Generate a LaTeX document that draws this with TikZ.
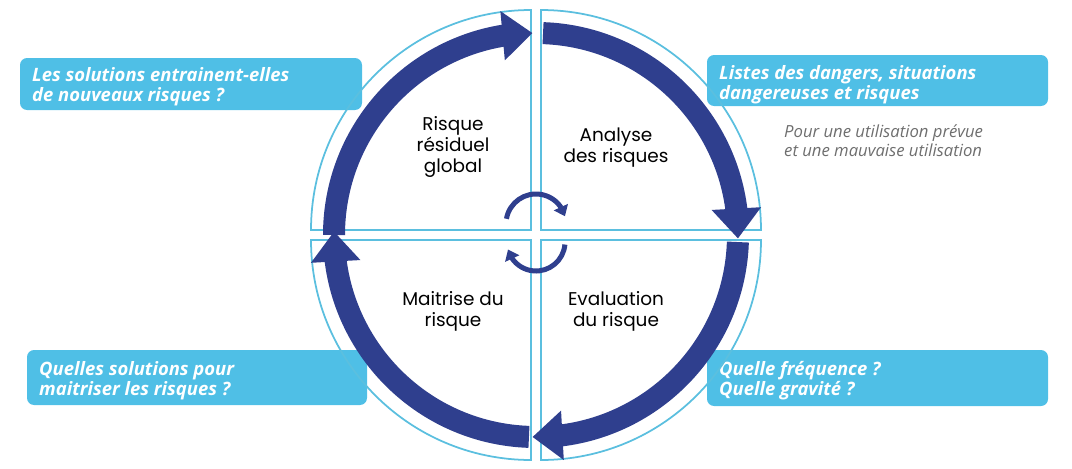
\documentclass[tikz,border=0pt]{standalone}
\usepackage{fontspec}
\setmainfont{Poppins}
\newfontfamily\boxfont{Open Sans}
\usetikzlibrary{arrows.meta,bending}
\definecolor{cyanbox}{HTML}{4FBFE6}
\definecolor{ringline}{HTML}{5BBFDF}
\definecolor{darkarrow}{HTML}{2F3F8E}
\definecolor{greytext}{HTML}{6E6E6E}
\tikzset{
  infobox/.style={fill=cyanbox, rounded corners=4pt, draw=none},
  infotext/.style={anchor=north west, align=left, text=white, font=\boxfont\bfseries\itshape\fontsize{10.5}{11.5}\selectfont},
  steplabel/.style={align=center, font=\fontsize{10.5}{12}\selectfont},
  quarter/.style={draw=ringline, line width=1pt},
  bigarrow/.style={darkarrow, line width=0.44cm, -{Triangle[length=0.6cm,width=0.95cm,flex]}},
  smallarrow/.style={darkarrow, line width=0.1cm, -{Triangle[length=0.2cm,width=0.3cm,flex]}}
}
\begin{document}
\begin{tikzpicture}[x=0.02cm,y=0.02cm]
  \useasboundingbox (0,0) rectangle (1072,468);

  % encadres
  \fill[infobox] (20,358) rectangle (362,410);
  \fill[infobox] (707,362) rectangle (1048,413);
  \fill[infobox] (27,63) rectangle (367,118);
  \fill[infobox] (707,62) rectangle (1048,118);
  \node[infotext] (qnouveaux) at (26,407) {Les solutions entrainent-elles\\de nouveaux risques ?};
  \node[infotext] (qdangers) at (713,409) {Listes des dangers, situations\\dangereuses et risques};
  \node[infotext, text=greytext, font=\boxfont\itshape\fontsize{9.5}{10.5}\selectfont] (qusage) at (778,349) {Pour une utilisation prévue\\et une mauvaise utilisation};
  \node[infotext] (qmaitrise) at (33,113) {Quelles solutions pour\\maitriser les risques ?};
  \node[infotext] (qfreq) at (713,113) {Quelle fréquence ?\\Quelle gravité ?};

  % quadrants
  \draw[quarter] (541,238) -- (761,238) arc[start angle=0,end angle=90,radius=220] -- cycle;
  \draw[quarter] (531,238) -- (531,458) arc[start angle=90,end angle=180,radius=220] -- cycle;
  \draw[quarter] (531,228) -- (311,228) arc[start angle=180,end angle=270,radius=220] -- cycle;
  \draw[quarter] (541,228) -- (541,8) arc[start angle=270,end angle=360,radius=220] -- cycle;

  % fleches du cycle
  \draw[bigarrow] (536,233) ++(180:202) arc[start angle=180,end angle=91,radius=202];
  \draw[bigarrow] (536,233) ++(88:202) arc[start angle=88,end angle=-1,radius=202];
  \draw[bigarrow] (536,233) ++(-2:202) arc[start angle=-2,end angle=-91,radius=202];
  \draw[bigarrow] (536,233) ++(-92:202) arc[start angle=-92,end angle=-181,radius=202];

  % petites fleches
  \draw[smallarrow] (536,244) ++(170:30) arc[start angle=170,end angle=15,radius=30];
  \draw[smallarrow] (536,226) ++(-5:29) arc[start angle=-5,end angle=-165,radius=29];

  % etapes
  \node[steplabel] (residuel) at (453,321) {Risque\\résiduel\\global};
  \node[steplabel] (analyse) at (616,320) {Analyse\\des risques};
  \node[steplabel] (maitrise) at (453,157) {Maitrise du\\risque};
  \node[steplabel] (evaluation) at (616,157) {Evaluation\\du risque};
\end{tikzpicture}
\end{document}
